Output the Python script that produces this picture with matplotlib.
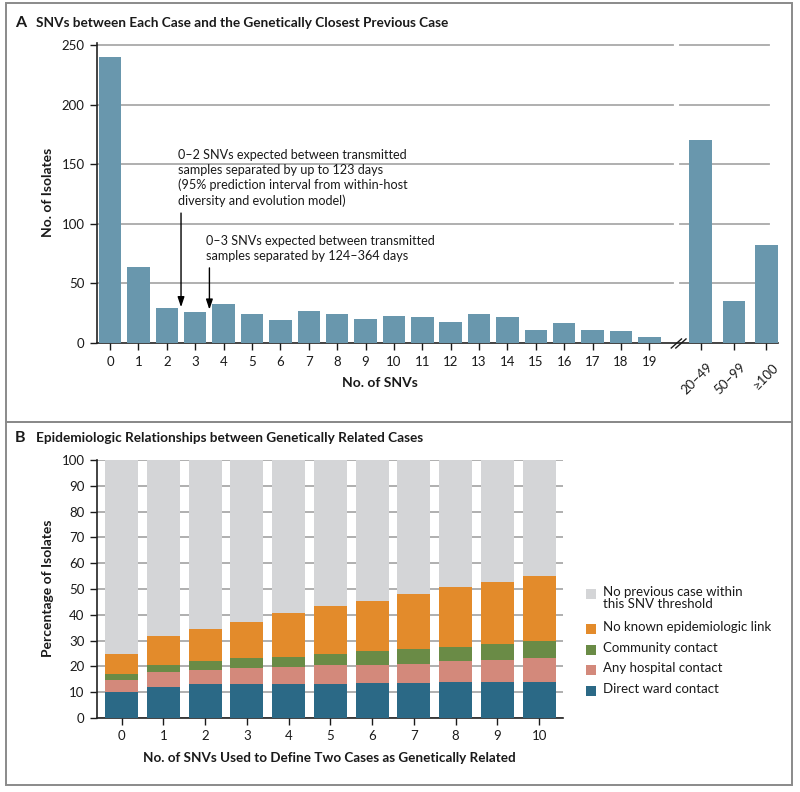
import matplotlib
matplotlib.use("Agg")
import matplotlib.pyplot as plt
from matplotlib.patches import Rectangle
import numpy as np

plt.rcParams['font.family'] = ['Lato', 'DejaVu Sans']

# ---------------- Data ----------------
snv_labels_left = [str(i) for i in range(20)]
snv_counts_left = [240, 64, 29, 26, 33, 24, 19, 27, 24, 20, 23, 22, 18, 24, 22, 11, 17, 11, 10, 5]
snv_labels_right = ["20–49", "50–99", "≥100"]
snv_counts_right = [170, 35, 82]

thresholds = [str(i) for i in range(11)]
direct_ward = [10.0, 12.0, 13.0, 13.0, 13.2, 13.3, 13.6, 13.7, 13.8, 14.0, 14.0]
any_hospital = [4.7, 5.8, 5.6, 6.5, 6.7, 7.1, 7.1, 7.1, 8.2, 8.5, 9.1]
community = [2.4, 2.7, 3.4, 3.6, 3.6, 4.4, 5.1, 5.8, 5.6, 6.3, 6.7]
no_link = [7.8, 11.2, 12.6, 14.2, 17.3, 18.6, 19.5, 21.6, 23.0, 24.0, 25.4]

legend_labels = ["No previous case within\nthis SNV threshold", "No known epidemiologic link",
                 "Community contact", "Any hospital contact", "Direct ward contact"]

# ---------------- Styles ----------------
TXT = "#1a1a1a"
BAR_A = "#6997ad"
C_DIRECT = "#2b6986"
C_HOSP = "#d3897b"
C_COMM = "#6a8b46"
C_NOLINK = "#e38b2b"
C_NONE = "#d4d5d7"
GRID = "#a9a9a9"
BORDER = "#8a8a8a"

W, H = 800, 792
fig = plt.figure(figsize=(W / 100, H / 100), dpi=100)

def fx(px):
    return px / W

def fy(py):
    return 1 - py / H

# panel borders
for (x0, y0, x1, y1) in [(6, 3, 792, 422), (6, 422, 792, 785)]:
    fig.add_artist(Rectangle((fx(x0), fy(y1)), fx(x1 - x0), (y1 - y0) / H,
                             transform=fig.transFigure, fill=False,
                             edgecolor=BORDER, linewidth=1.4))

# ---------------- Panel A ----------------
axA = fig.add_axes([fx(97), fy(343), fx(778 - 97), (343 - 42.6) / H])
pos_left = np.arange(len(snv_counts_left))
pos_right = np.array([20.81, 21.98, 23.12])
bw = 0.79
axA.bar(pos_left, snv_counts_left, width=bw, color=BAR_A, zorder=3)
axA.bar(pos_right, snv_counts_right, width=0.81, color=BAR_A, zorder=3)
axA.set_xlim(-0.46, 23.53)
axA.set_ylim(0, 252)
for yv in [50, 100, 150, 200, 250]:
    axA.plot([-0.46, 19.84], [yv, yv], color=GRID, lw=1.3, zorder=1)
    axA.plot([20.09, 23.23], [yv, yv], color=GRID, lw=1.3, zorder=1)
axA.set_yticks([0, 50, 100, 150, 200, 250])
axA.set_xticks(list(pos_left) + list(pos_right))
axA.set_xticklabels(snv_labels_left + [""] * 3)
for p, lab in zip(pos_right, snv_labels_right):
    axA.annotate(lab, xy=(p, 0), xycoords=('data', 'data'), xytext=(4, -13),
                 textcoords='offset points', rotation=45, ha='right', va='top',
                 rotation_mode='anchor', fontsize=9.5, color=TXT)
for s in ['top', 'right']:
    axA.spines[s].set_visible(False)
# break marks
for dx in [0.0, 0.16]:
    axA.plot([19.77 + dx, 20.13 + dx], [-4.2, 3.4], color=TXT, lw=1.0,
             clip_on=False, zorder=5)

arrow_style = "-|>,head_length=0.6,head_width=0.2"
axA.annotate("", xy=(2.5, 30), xytext=(2.5, 109),
             arrowprops=dict(arrowstyle=arrow_style, color="black", lw=1.0,
                             shrinkA=0, shrinkB=0))
axA.annotate("", xy=(3.5, 28), xytext=(3.5, 63),
             arrowprops=dict(arrowstyle=arrow_style, color="black", lw=1.0,
                             shrinkA=0, shrinkB=0))
axA.text(2.40, 163, "0–2 SNVs expected between transmitted\nsamples separated by up to 123 days\n"
         "(95% prediction interval from within-host\ndiversity and evolution model)",
         ha='left', va='top', fontsize=9.1, color=TXT, linespacing=1.3)
axA.text(3.38, 91, "0–3 SNVs expected between transmitted\nsamples separated by 124–364 days",
         ha='left', va='top', fontsize=9.1, color=TXT, linespacing=1.3)

fig.text(fx(15), fy(23), "A", fontsize=11.5, fontweight='bold', color=TXT, va='center')
fig.text(fx(36), fy(23), "SNVs between Each Case and the Genetically Closest Previous Case",
         fontsize=9.8, fontweight='bold', color=TXT, va='center')
fig.text(fx(48), fy(192), "No. of Isolates", rotation=90, fontsize=10, fontweight='bold',
         color=TXT, ha='center', va='center')
fig.text(fx(380), fy(383), "No. of SNVs", fontsize=10, fontweight='bold',
         color=TXT, ha='center', va='center')

# ---------------- Panel B ----------------
axB = fig.add_axes([fx(97), fy(718), fx(563 - 97), (718 - 460) / H])
xb = np.arange(len(thresholds))
bottoms = np.zeros(len(xb))
none_prev = 100 - (np.array(direct_ward) + np.array(any_hospital) + np.array(community) + np.array(no_link))
series = [(direct_ward, C_DIRECT), (any_hospital, C_HOSP), (community, C_COMM),
          (no_link, C_NOLINK), (none_prev, C_NONE)]
for vals, col in series:
    axB.bar(xb, vals, bottom=bottoms, width=0.79, color=col, zorder=3)
    bottoms = bottoms + np.array(vals)
axB.set_xlim(-0.59, 10.57)
axB.set_ylim(0, 100)
axB.set_yticks(np.arange(0, 101, 10))
axB.set_xticks(xb)
axB.set_xticklabels(thresholds)
axB.grid(axis='y', color=GRID, lw=1.3, zorder=1)
axB.set_axisbelow(True)
for s in ['top', 'right']:
    axB.spines[s].set_visible(False)

fig.text(fx(15), fy(438), "B", fontsize=11.5, fontweight='bold', color=TXT, va='center')
fig.text(fx(36), fy(438), "Epidemiologic Relationships between Genetically Related Cases",
         fontsize=9.8, fontweight='bold', color=TXT, va='center')
fig.text(fx(48), fy(588), "Percentage of Isolates", rotation=90, fontsize=10, fontweight='bold',
         color=TXT, ha='center', va='center')
fig.text(fx(329), fy(758), "No. of SNVs Used to Define Two Cases as Genetically Related",
         fontsize=9.7, fontweight='bold', color=TXT, ha='center', va='center')

# legend (manual)
leg_items = [(legend_labels[0], C_NONE, 593.5), (legend_labels[1], C_NOLINK, 629),
             (legend_labels[2], C_COMM, 650), (legend_labels[3], C_HOSP, 670),
             (legend_labels[4], C_DIRECT, 691)]
for lab, col, yc in leg_items:
    fig.add_artist(Rectangle((fx(586), fy(yc + 5)), fx(10), 10 / H,
                             transform=fig.transFigure, facecolor=col, edgecolor='none'))
    fig.text(fx(603), fy(yc - 8), lab, fontsize=9.5, color=TXT, va='top', ha='left',
             linespacing=1.1)

for ax in (axA, axB):
    ax.tick_params(axis='both', labelsize=9.5, colors=TXT, length=5, width=1.0, pad=4)
    for s in ['left', 'bottom']:
        ax.spines[s].set_color("#222222")
        ax.spines[s].set_linewidth(1.2)

fig.savefig("out.png", dpi=100)
